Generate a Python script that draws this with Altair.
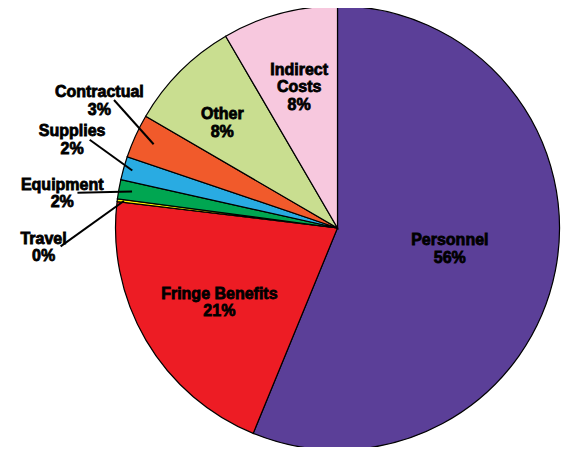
import math
import altair as alt
import pandas as pd

# ---- data ----
categories = ["Personnel", "Fringe Benefits", "Travel", "Equipment",
              "Supplies", "Contractual", "Other", "Indirect Costs"]
values = [56.2, 20.7, 0.2, 1.4, 1.7, 3.2, 8.2, 8.4]
pct_labels = ["56%", "21%", "0%", "2%", "2%", "3%", "8%", "8%"]
name_lines = [["Personnel"], ["Fringe Benefits"], ["Travel"], ["Equipment"],
              ["Supplies"], ["Contractual"], ["Other"], ["Indirect", "Costs"]]
colors = ["#5B3F98", "#ED1C24", "#FFF200", "#00A651",
          "#29ABE2", "#F15A2B", "#C9DE90", "#F7C8DE"]

# ---- layout (pixels / radius units) ----
W, H = 555, 439
CX, CY, R = 329.5, 220.0, 222.0
# label position: (angle deg clockwise from 12 o'clock, radius as fraction of R)
label_pos = {
    "Personnel": (96.3, 0.509),
    "Fringe Benefits": (240.9, 0.609),
    "Travel": (267.9, 1.325),
    "Equipment": (278.9, 1.255),
    "Supplies": (290.0, 1.272),
    "Contractual": (299.7, 1.235),
    "Other": (314.6, 0.729),
    "Indirect Costs": (346.4, 0.734),
}
# leader lines for outside labels: outer end (angle, r), inner end radius fraction at slice mid-angle
leader = {
    "Travel": ((266.2, 1.250), 0.97),
    "Equipment": ((277.7, 1.182), 0.94),
    "Supplies": ((289.6, 1.185), 0.96),
    "Contractual": ((299.8, 1.160), 0.91),
}


def polar(angle_deg, r):
    a = math.radians(angle_deg)
    return r * math.sin(a), r * math.cos(a)


total = sum(values)
cum = 0.0
mids = {}
for c, v in zip(categories, values):
    mids[c] = (cum + v / 2) / total * 360
    cum += v

pie_df = pd.DataFrame({"category": categories, "value": values,
                       "order": list(range(len(categories)))})

lab_rows = []
for c, nl, p in zip(categories, name_lines, pct_labels):
    x, y = polar(*label_pos[c])
    lab_rows.append({"category": c, "text": nl + [p], "x": x, "y": y})
lab_df = pd.DataFrame(lab_rows)

line_rows = []
for c, ((oa, orr), inner_r) in leader.items():
    x1, y1 = polar(oa, orr)
    x2, y2 = polar(mids[c], inner_r)
    line_rows.append({"category": c, "x": x1, "y": y1, "x2": x2, "y2": y2})
line_df = pd.DataFrame(line_rows)

xscale = alt.Scale(domain=[-CX / R, (W - CX) / R], nice=False, zero=False)
yscale = alt.Scale(domain=[-(H - CY) / R, CY / R], nice=False, zero=False)

pie = alt.Chart(pie_df).mark_arc(
    outerRadius=R, stroke="black", strokeWidth=1.2, strokeJoin="miter"
).encode(
    theta=alt.Theta("value:Q", stack=True),
    color=alt.Color("category:N", scale=alt.Scale(domain=categories, range=colors), legend=None),
    order=alt.Order("order:Q"),
    x=alt.datum(0, type="quantitative", scale=xscale, axis=None),
    y=alt.datum(0, type="quantitative", scale=yscale, axis=None),
)

lines = alt.Chart(line_df).mark_rule(color="black", strokeWidth=2).encode(
    x=alt.X("x:Q", scale=xscale, axis=None),
    y=alt.Y("y:Q", scale=yscale, axis=None),
    x2="x2:Q",
    y2="y2:Q",
)

labels = alt.Chart(lab_df).mark_text(
    font="Liberation Sans", fontWeight="bold", fontSize=16, lineHeight=17.5,
    align="center", baseline="middle", color="black",
    stroke="black", strokeWidth=0.8,
).encode(
    x=alt.X("x:Q", scale=xscale, axis=None),
    y=alt.Y("y:Q", scale=yscale, axis=None),
    text="text",
)

chart = alt.layer(pie, lines, labels).properties(
    width=W, height=H,
    autosize=alt.AutoSizeParams(type="none"),
    padding=0,
    background="white",
).configure_view(stroke=None)

chart.save("out.html", embed_options={"renderer": "svg", "actions": False})
